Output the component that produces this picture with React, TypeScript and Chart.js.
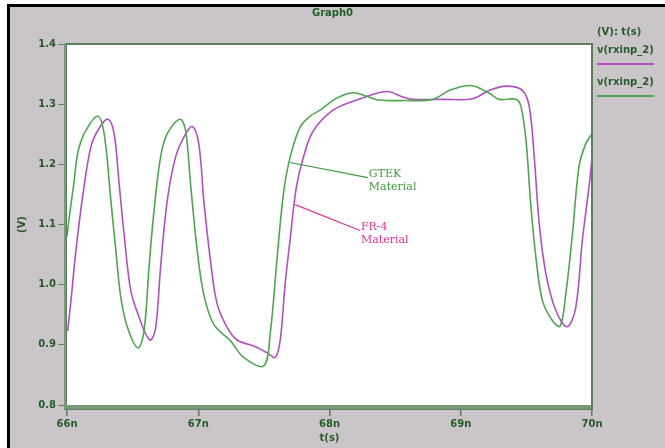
import { useEffect, useRef } from 'react';
import { Chart, registerables } from 'chart.js';

Chart.register(...registerables);

// ---- data (time in ns, voltage in V) ----
const timeTicksNs = [66, 67, 68, 69, 70];
const voltRange = [0.8, 1.4];

const gtekTimeNs = [
  66.0, 66.017, 66.055, 66.081, 66.131, 66.233, 66.283, 66.334, 66.372, 66.41, 66.461, 66.541,
  66.587, 66.625, 66.663, 66.713, 66.764, 66.86, 66.903, 66.941, 66.992, 67.042, 67.118, 67.245,
  67.346, 67.498, 67.548, 67.599, 67.649, 67.7, 67.776, 67.852, 67.928, 68.055, 68.181, 68.282,
  68.37, 68.575, 68.788, 68.915, 69.079, 69.218, 69.294, 69.421, 69.459, 69.497, 69.535, 69.573,
  69.623, 69.699, 69.757, 69.8, 69.851, 69.901, 69.952, 70.0,
];
const gtekVolts = [
  1.08, 1.112, 1.173, 1.218, 1.251, 1.28, 1.251, 1.14, 1.057, 0.979, 0.929, 0.895,
  0.923, 1.029, 1.123, 1.212, 1.251, 1.275, 1.257, 1.168, 1.057, 0.984, 0.934, 0.907,
  0.879, 0.865, 0.918, 1.04, 1.151, 1.212, 1.262, 1.28, 1.29, 1.31, 1.319, 1.313,
  1.307, 1.306, 1.308, 1.323, 1.331, 1.318, 1.308, 1.308, 1.296, 1.24, 1.129, 1.045,
  0.973, 0.94, 0.931, 0.984, 1.084, 1.196, 1.234, 1.251,
];

const fr4TimeNs = [
  66.005, 66.03, 66.068, 66.119, 66.182, 66.245, 66.313, 66.359, 66.397, 66.435, 66.486, 66.549,
  66.6, 66.638, 66.676, 66.713, 66.764, 66.827, 66.89, 66.954, 67.004, 67.042, 67.093, 67.144,
  67.22, 67.296, 67.422, 67.523, 67.586, 67.624, 67.662, 67.7, 67.746, 67.799, 67.875, 68.027,
  68.209, 68.436, 68.558, 68.634, 68.862, 69.089, 69.218, 69.347, 69.469, 69.522, 69.56, 69.598,
  69.649, 69.724, 69.81, 69.876, 69.926, 69.977, 70.0,
];
const fr4Volts = [
  0.923, 0.973, 1.057, 1.146, 1.229, 1.26, 1.275, 1.251, 1.168, 1.084, 0.99, 0.946,
  0.918, 0.908, 0.929, 1.029, 1.14, 1.212, 1.245, 1.263, 1.234, 1.14, 1.04, 0.968,
  0.929, 0.908, 0.898, 0.887, 0.879, 0.907, 1.001, 1.075, 1.16, 1.21, 1.255, 1.29,
  1.307, 1.321, 1.312, 1.308, 1.308, 1.309, 1.323, 1.33, 1.323, 1.296, 1.212, 1.101,
  1.018, 0.957, 0.93, 0.962, 1.073, 1.162, 1.21,
];

const chartTitle = 'Graph0';
const legendHeader = '(V): t(s)';
const seriesNames = ['v(rxinp_2)', 'v(rxinp_2)'];
const xAxisTitle = 't(s)';
const yAxisTitle = '(V)';
const gtekLabel = ['GTEK', 'Material'];
const fr4Label = ['FR-4', 'Material'];

// ---- styles ----
const GREEN = '#4ea64e';
const MAGENTA = '#b24fc2';
const PINK = '#e0309a';
const TEXT = '#245c24';
const BG = '#c9c5c9';
const FRAME = '#789a78';
const FRAME_DARK = '#5a7e5a';
const BOLD = 'bold 10px "DejaVu Sans"';
const SERIF = '11px "DejaVu Serif"';

const toPoints = (xs: number[], ys: number[]) => xs.map((x, i) => ({ x, y: ys[i] }));

const decorPlugin = {
  id: 'decor',
  beforeDraw(chart: any) {
    const { ctx, width, height, chartArea: a } = chart;
    ctx.save();
    ctx.fillStyle = '#ffffff';
    ctx.fillRect(0, 0, width, height);
    ctx.fillStyle = '#000000';
    ctx.fillRect(7, 4, width - 7, height - 4);
    ctx.fillStyle = BG;
    ctx.fillRect(10, 7, width - 10, height - 7);
    ctx.fillStyle = '#ffffff';
    ctx.fillRect(a.left, a.top, a.right - a.left, a.bottom - a.top);
    ctx.restore();
  },
  afterDatasetsDraw(chart: any) {
    const { ctx, chartArea: a, scales } = chart;
    const xs = scales.x;
    const ys = scales.y;
    ctx.save();
    // frame
    ctx.fillStyle = FRAME;
    ctx.fillRect(a.left - 3, a.top - 1, 3, a.bottom - a.top + 6);
    ctx.fillRect(a.left - 3, a.bottom, a.right - a.left + 4, 5);
    ctx.fillStyle = FRAME_DARK;
    ctx.fillRect(a.left - 1, a.top - 1, a.right - a.left + 2, 2);
    ctx.fillRect(a.right - 1, a.top - 1, 2, a.bottom - a.top + 5);
    ctx.fillRect(a.left - 3, a.bottom + 4, a.right - a.left + 4, 1);
    ctx.fillRect(a.left - 1, a.top, 1, a.bottom - a.top);

    // annotations with leader lines (data coordinates)
    const drawNote = (from: number[], to: number[], lines: string[], color: string) => {
      const x0 = xs.getPixelForValue(from[0]);
      const y0 = ys.getPixelForValue(from[1]);
      const x1 = xs.getPixelForValue(to[0]);
      const y1 = ys.getPixelForValue(to[1]);
      ctx.strokeStyle = color;
      ctx.lineWidth = 1.2;
      ctx.beginPath();
      ctx.moveTo(x0, y0);
      ctx.lineTo(x1, y1);
      ctx.stroke();
      ctx.fillStyle = color;
      ctx.font = SERIF;
      ctx.textAlign = 'left';
      ctx.textBaseline = 'middle';
      lines.forEach((t, i) => ctx.fillText(t, x1 + 1, y1 - 3 + i * 13));
    };
    drawNote([67.7, 1.203], [68.292, 1.178], gtekLabel, '#3f9a3f');
    drawNote([67.738, 1.133], [68.232, 1.09], fr4Label, PINK);
    ctx.restore();
  },
  afterDraw(chart: any) {
    const { ctx, width, chartArea: a } = chart;
    ctx.save();
    ctx.fillStyle = TEXT;
    ctx.font = BOLD;
    ctx.textBaseline = 'middle';
    ctx.textAlign = 'center';
    ctx.fillText(chartTitle, width / 2, 13);
    const lx = a.right + 5;
    ctx.textAlign = 'left';
    ctx.fillText(legendHeader, lx, 32);
    const colors = [MAGENTA, GREEN];
    seriesNames.forEach((name, i) => {
      const y = 50 + i * 32;
      ctx.fillStyle = TEXT;
      ctx.fillText(name, lx, y);
      ctx.fillStyle = colors[i];
      ctx.fillRect(lx, y + 13, 57, 2);
    });
    ctx.restore();
  },
};

export default function App() {
  const ref = useRef<HTMLCanvasElement | null>(null);
  useEffect(() => {
    if (!ref.current) return;
    const chart = new Chart(ref.current, {
      type: 'line',
      data: {
        datasets: [
          {
            label: 'GTEK Material',
            data: toPoints(gtekTimeNs, gtekVolts),
            borderColor: GREEN,
            borderWidth: 1.6,
            pointRadius: 0,
            tension: 0.35,
            fill: false,
          },
          {
            label: 'FR-4 Material',
            data: toPoints(fr4TimeNs, fr4Volts),
            borderColor: MAGENTA,
            borderWidth: 1.6,
            pointRadius: 0,
            tension: 0.35,
            fill: false,
          },
        ],
      },
      options: {
        animation: false,
        responsive: false,
        devicePixelRatio: 1,
        layout: { padding: { left: 10, right: 73, top: 44, bottom: 0 } },
        plugins: {
          legend: { display: false },
          title: { display: false },
          tooltip: { enabled: false },
        },
        scales: {
          x: {
            type: 'linear',
            min: timeTicksNs[0],
            max: timeTicksNs[timeTicksNs.length - 1],
            afterFit: (s: any) => { s.height = 43; },
            afterBuildTicks: (s: any) => { s.ticks = timeTicksNs.map((v) => ({ value: v })); },
            ticks: {
              callback: (v: any) => `${v}n`,
              color: TEXT,
              font: { family: 'DejaVu Sans', size: 10, weight: 'bold' },
              padding: 2,
              maxRotation: 0,
            },
            grid: { drawOnChartArea: false, drawTicks: true, tickLength: 11, color: FRAME_DARK, lineWidth: 1.5 },
            border: { display: false },
            title: {
              display: true,
              text: xAxisTitle,
              color: TEXT,
              font: { family: 'DejaVu Sans', size: 10, weight: 'bold' },
              padding: { top: 0, bottom: 4 },
            },
          },
          y: {
            type: 'linear',
            min: voltRange[0],
            max: voltRange[1],
            afterFit: (s: any) => { s.width = 57; },
            ticks: {
              stepSize: 0.1,
              callback: (v: any) => Number(v).toFixed(1),
              color: TEXT,
              font: { family: 'DejaVu Sans', size: 10, weight: 'bold' },
              padding: 2,
            },
            grid: { drawOnChartArea: false, drawTicks: true, tickLength: 9, color: FRAME_DARK, lineWidth: 1 },
            border: { display: false },
            title: {
              display: true,
              text: yAxisTitle,
              color: TEXT,
              font: { family: 'DejaVu Sans', size: 10, weight: 'bold' },
              padding: { top: 6, bottom: 0 },
            },
          },
        },
      },
      plugins: [decorPlugin],
    });
    return () => chart.destroy();
  }, []);
  return (
    <div style={{ position: 'absolute', left: 0, top: 0, width: 665, height: 448 }}>
      <canvas ref={ref} width={665} height={448} style={{ display: 'block' }} />
    </div>
  );
}
